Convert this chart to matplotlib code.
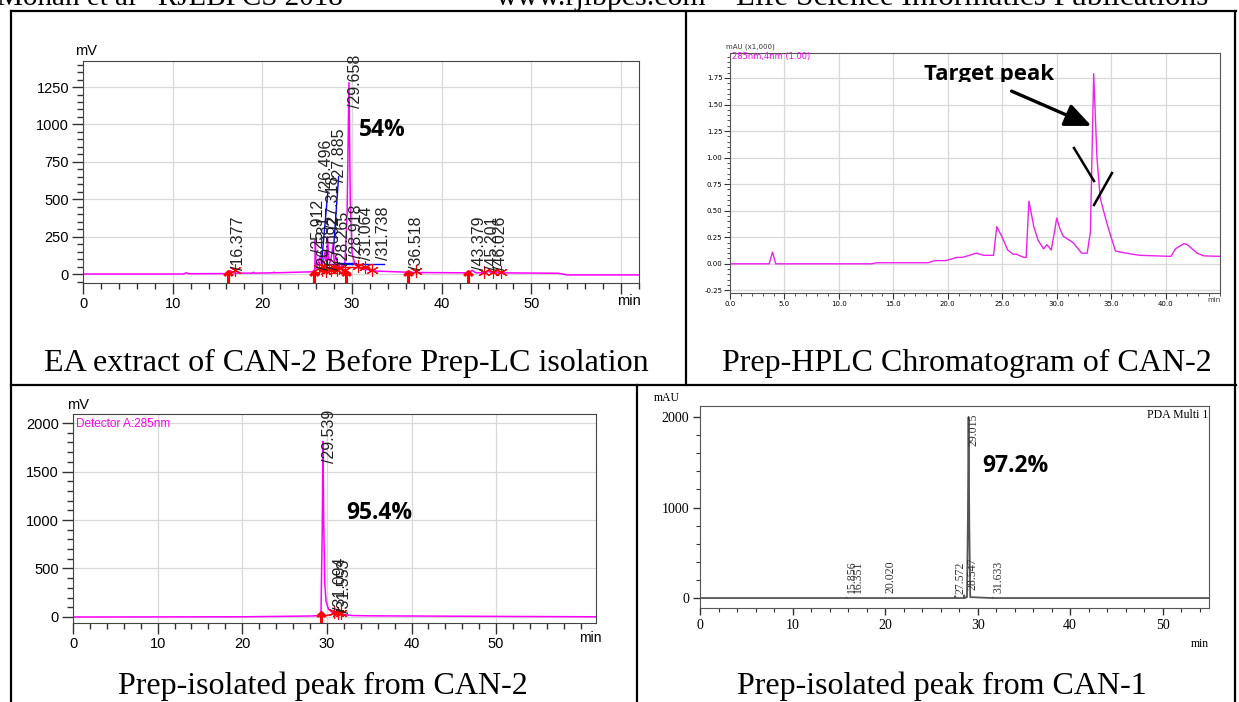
import matplotlib
matplotlib.use("Agg")
import matplotlib.pyplot as plt
from matplotlib.lines import Line2D
from matplotlib.patches import FancyArrowPatch
from matplotlib.ticker import MultipleLocator
from matplotlib.transforms import Bbox, TransformedBbox

W, H = 1239, 702

# ---- panel 1: EA extract of CAN-2 (mV) ----
t1 = [0, 11.2, 11.5, 11.8, 16.0, 16.4, 16.9, 18.9, 19.0, 19.1, 21.2, 21.3, 21.4,
      25.6, 25.85, 25.91, 26.0, 26.3, 26.5, 26.6, 26.8, 27.0, 27.09, 27.2, 27.27,
      27.4, 27.6, 27.89, 28.0, 28.27, 28.4, 28.8, 28.92, 29.2, 29.45, 29.66, 29.8,
      30.0, 30.3, 30.8, 31.06, 31.4, 31.74, 32.5, 36.3, 36.52, 36.8, 43.0, 43.38,
      43.8, 44.8, 45.2, 45.6, 46.03, 46.5, 53.0, 54.0, 62]
v1 = [0, 0, 8, 2, 3, 22, 6, 6, 12, 6, 8, 12, 8,
      15, 30, 230, 40, 90, 120, 60, 80, 150, 90, 110, 250,
      100, 80, 200, 90, 110, 50, 45, 60, 60, 400, 1280, 500,
      140, 70, 40, 40, 30, 30, 20, 12, 14, 10, 8, 25,
      8, 8, 18, 8, 14, 8, 5, -6, -6]
labels1 = ["/16.377", "/25.912", "/26.581", "/26.496", "/27.092", "/27.318", "/27.885",
           "/28.265", "/28.918", "/29.658", "/31.064", "/31.738", "/36.518", "/43.379",
           "/45.201", "/46.026"]
lab1_t = [17.3, 26.3, 26.9, 27.2, 28.0, 27.9, 28.6, 29.0, 30.5, 30.4, 31.6, 33.5,
          37.2, 44.2, 45.7, 46.6]
lab1_v = [27, 140, 27, 540, 27, 300, 615, 60, 107, 1110, 93, 93, 27, 27, 27, 27]
blue1 = [(26.6, 71, 27.3, 550), (27.9, 138, 28.5, 650), (27.1, 67, 33.6, 67), (28.4, 75, 30.4, 75)]
arrows1 = [16.2, 25.8, 29.3, 36.2, 42.9]
stars1_t = [16.9, 26.3, 26.6, 26.9, 27.1, 27.4, 27.7, 28.0, 28.3, 28.6, 29.2, 30.7,
            31.5, 32.2, 37.1, 44.7, 45.7, 46.6]
stars1_v = [25, 40, 30, 50, 20, 40, 30, 45, 25, 40, 30, 55, 50, 30, 20, 15, 15, 15]

# ---- panel 2: Prep-HPLC of CAN-2 (mAU x1000) ----
t2 = [0, 3.6, 3.9, 4.2, 13.0, 13.5, 18.2, 18.8, 19.8, 20.5, 20.8, 21.3, 22.0, 22.6,
      23.3, 24.2, 24.5, 25.0, 25.5, 26.0, 26.3, 27.0, 27.2, 27.45, 27.9, 28.3, 28.8,
      29.1, 29.5, 29.8, 30.0, 30.3, 30.6, 31.5, 32.3, 32.8, 33.1, 33.4, 33.7, 34.0,
      34.3, 34.7, 35.4, 36.4, 37.6, 40.5, 40.9, 41.2, 41.7, 42.0, 42.9, 43.5, 45.0]
v2 = [0, 0, 0.11, 0, 0, 0.01, 0.01, 0.03, 0.03, 0.05, 0.06, 0.06, 0.08, 0.10,
      0.08, 0.08, 0.35, 0.25, 0.13, 0.09, 0.09, 0.06, 0.06, 0.59, 0.35, 0.22, 0.14,
      0.18, 0.13, 0.30, 0.43, 0.33, 0.26, 0.20, 0.10, 0.10, 0.30, 1.79, 1.0, 0.62,
      0.50, 0.35, 0.12, 0.10, 0.08, 0.07, 0.14, 0.16, 0.19, 0.18, 0.10, 0.075, 0.07]

# ---- panel 3: Prep-isolated peak CAN-2 (mV) ----
t3 = [0, 20, 28.0, 29.3, 29.45, 29.54, 29.62, 29.75, 29.9, 30.2, 30.6, 31.1, 31.5,
      32.0, 33.0, 35, 45, 61.8]
v3 = [0, 2, 10, 15, 900, 1810, 1000, 350, 160, 80, 50, 40, 35, 25, 15, 12, 8, 2]
labels3 = ["/29.539", "/31.094", "/31.553"]
lab3_t = [30.3, 31.6, 32.1]
lab3_v = [1590, 60, 40]
stars3_t = [30.8, 31.3, 31.7]
stars3_v = [50, 45, 40]

# ---- panel 4: Prep-isolated peak CAN-1 (mAU) ----
t4 = [0, 15.8, 15.86, 15.9, 27.5, 27.57, 27.65, 28.5, 28.55, 28.6, 28.85, 28.95,
      29.02, 29.1, 29.2, 31.6, 31.63, 31.7, 55]
v4 = [0, 0, 5, 0, 0, 20, 0, 0, 30, 0, 10, 900, 2000, 800, 10, 0, 5, 0, 0]
labels4 = ["15.856", "16.351", "20.020", "27.572", "28.547", "29.015", "31.633"]
lab4_t = [16.4, 17.1, 20.6, 28.2, 29.4, 29.6, 32.2]
lab4_v = [55, 55, 55, 40, 90, 1680, 55]

captions = ["EA extract of CAN-2 Before Prep-LC isolation", "Prep-HPLC Chromatogram of CAN-2",
            "Prep-isolated peak from CAN-2", "Prep-isolated peak from CAN-1"]

MAG = "#ff00ff"
serif = "Liberation Serif"
fig = plt.figure(figsize=(W / 100, H / 100), dpi=100)


def panel(x0, y0, x1, y1):
    return fig.add_axes([x0 / W, 1 - y1 / H, (x1 - x0) / W, (y1 - y0) / H])


def line(x0, y0, x1, y1, lw=1.6):
    fig.add_artist(Line2D([x0 / W, x1 / W], [1 - y0 / H, 1 - y1 / H],
                          transform=fig.transFigure, color="black", lw=lw))


def ftext(x, y, s, **kw):
    return fig.text(x / W, 1 - y / H, s, **kw)


# table frame
line(11, 11, 1236, 11)
line(11, 11, 11, 702)
line(1235, 11, 1235, 702)
line(11, 385, 1236, 385)
line(686, 11, 686, 385)
line(637, 385, 637, 702)

# page header (cut off at the top edge)
ftext(-3, 5, "Mohan et al   RJLBPCS 2018", fontsize=21, family=serif, va="baseline")
ftext(496, 5, "www.rjlbpcs.com", fontsize=21.5, family=serif, va="baseline")
ftext(736, 5, "Life Science Informatics Publications", fontsize=22.5, family=serif, va="baseline")

for s, (cx, cy) in zip(captions, [(346, 371), (967, 371), (323, 694), (942, 694)]):
    ftext(cx, cy, s, fontsize=23, family=serif, ha="center", va="baseline")

# ---------- panel 1 ----------
ax = panel(83, 61, 639, 283)
ax.set_xlim(0, 62)
ax.set_ylim(-60, 1424)
ax.plot(t1, v1, color=MAG, lw=1.1)
for a, b, c, d in blue1:
    ax.plot([a, c], [b, d], color="blue", lw=1)
ax.plot([28.3, 31.9], [50, 50], color="red", lw=1)
ax.plot(arrows1, [-25] * len(arrows1), ls="none", marker=r"$\uparrow$", ms=11, color="red")
ax.plot(stars1_t, stars1_v, ls="none", marker=(6, 2, 0), ms=9, mew=0.8, color="red")
for s, t, v in zip(labels1, lab1_t, lab1_v):
    ax.text(t, v, s, rotation=90, ha="center", va="bottom", fontsize=11.5,
            family="Liberation Sans", color="#222", clip_on=False)
ax.set_xticks(range(0, 61, 10))
ax.set_xticklabels(["0", "10", "20", "30", "40", "50", ""])
ax.set_yticks(range(0, 1251, 250))
ax.xaxis.set_minor_locator(MultipleLocator(2))
ax.yaxis.set_minor_locator(MultipleLocator(50))
ax.grid(True, color="#d8d8d8", lw=0.9)
ax.set_axisbelow(True)
ax.tick_params(which="major", length=8, width=1, labelsize=10.5, color="#333", pad=2)
ax.tick_params(which="minor", length=4, width=1, color="#333")
for lab in ax.get_xticklabels() + ax.get_yticklabels():
    lab.set_family("Liberation Sans")
for sp in ax.spines.values():
    sp.set_color("#444")
ftext(75, 55, "mV", fontsize=10.5, family="Liberation Sans", va="baseline")
ftext(629, 305, "min", fontsize=10.5, family="Liberation Sans", ha="center", va="baseline")
ftext(359, 136, "54%", fontsize=16.5, family="Open Sans", weight="bold", va="baseline")

# ---------- panel 2 ----------
ax = panel(730, 53, 1220, 293)
ax.set_xlim(0, 45)
ax.set_ylim(-0.275, 1.985)
ax.plot(t2, v2, color="#f020f0", lw=1.0)
ax.set_xticks([0, 5, 10, 15, 20, 25, 30, 35, 40])
ax.set_xticklabels(["0.0", "5.0", "10.0", "15.0", "20.0", "25.0", "30.0", "35.0", "40.0"])
ax.set_yticks([-0.25, 0, 0.25, 0.5, 0.75, 1.0, 1.25, 1.5, 1.75])
ax.set_yticklabels(["-0.25", "0.00", "0.25", "0.50", "0.75", "1.00", "1.25", "1.50", "1.75"])
ax.xaxis.set_minor_locator(MultipleLocator(1))
ax.yaxis.set_minor_locator(MultipleLocator(0.05))
ax.grid(True, color="#d8d8d8", lw=0.9)
ax.set_axisbelow(True)
ax.tick_params(which="major", length=4, width=0.8, labelsize=5, color="#333", pad=1.5)
ax.tick_params(which="minor", length=2, width=0.6, color="#333")
for sp in ax.spines.values():
    sp.set_color("#555")
ftext(726, 49, "mAU (x1,000)", fontsize=5, color="#333")
ftext(732, 59, "285nm,4nm (1.00)", fontsize=6, color=MAG)
ftext(1214, 302, "min", fontsize=5, ha="center", va="baseline", color="#333")
tg = ftext(924, 80, "Target peak", fontsize=16, family="Open Sans", weight="bold", va="baseline")
tg.set_clip_box(TransformedBbox(Bbox([[900 / W, 1 - 82 / H], [1070 / W, 1 - 55 / H]]), fig.transFigure))
tg.set_clip_on(True)
fig.add_artist(FancyArrowPatch(
    (1009 / W, 1 - 90 / H), (1094 / W, 1 - 127 / H), transform=fig.transFigure,
    arrowstyle="-|>,head_length=16,head_width=7", lw=2.4, color="black", mutation_scale=1))
line(1074, 148, 1094, 181, lw=1.8)
line(1094, 205, 1112, 173, lw=1.8)

# ---------- panel 3 ----------
ax = panel(73, 414, 596, 623)
ax.set_xlim(0, 61.8)
ax.set_ylim(-62, 2093)
ax.plot(t3, v3, color=MAG, lw=1.1)
ax.plot([29.3, 31.7], [5, 45], color="red", lw=1)
ax.plot([29.3], [-25], ls="none", marker=r"$\uparrow$", ms=11, color="red")
ax.plot(stars3_t, stars3_v, ls="none", marker=(6, 2, 0), ms=9, mew=0.8, color="red")
for s, t, v in zip(labels3, lab3_t, lab3_v):
    ax.text(t, v, s, rotation=90, ha="center", va="bottom", fontsize=11.5,
            family="Liberation Sans", color="#222", clip_on=False)
ax.set_xticks(range(0, 51, 10))
ax.set_yticks(range(0, 2001, 500))
ax.xaxis.set_minor_locator(MultipleLocator(2))
ax.yaxis.set_minor_locator(MultipleLocator(100))
ax.grid(True, color="#d8d8d8", lw=0.9)
ax.set_axisbelow(True)
ax.tick_params(which="major", length=8, width=1, labelsize=10.5, color="#333", pad=2)
ax.tick_params(which="minor", length=4, width=1, color="#333")
for lab in ax.get_xticklabels() + ax.get_yticklabels():
    lab.set_family("Liberation Sans")
for sp in ax.spines.values():
    sp.set_color("#444")
ftext(67, 409, "mV", fontsize=10.5, family="Liberation Sans", va="baseline")
ftext(76, 427, "Detector A:285nm", fontsize=8.5, family="Liberation Sans", color=MAG, va="baseline")
ftext(590, 642, "min", fontsize=10, family="Liberation Sans", ha="center", va="baseline")
ftext(346, 519, "95.4%", fontsize=16.5, family="Open Sans", weight="bold", va="baseline")

# ---------- panel 4 ----------
ax = panel(700, 406, 1209, 608)
ax.set_xlim(0, 55)
ax.set_ylim(-110, 2122)
ax.plot(t4, v4, color="#555", lw=1.3)
for s, t, v in zip(labels4, lab4_t, lab4_v):
    ax.text(t, v, s, rotation=90, ha="center", va="bottom", fontsize=8.5,
            family=serif, color="#333")
ax.set_xticks(range(0, 51, 10))
ax.set_yticks([0, 1000, 2000])
ax.xaxis.set_minor_locator(MultipleLocator(2))
ax.yaxis.set_minor_locator(MultipleLocator(200))
ax.tick_params(which="major", length=5, width=1, labelsize=10, color="#333", pad=3)
ax.tick_params(which="minor", length=3, width=0.8, color="#333")
for lab in ax.get_xticklabels() + ax.get_yticklabels():
    lab.set_family(serif)
for sp in ax.spines.values():
    sp.set_color("#555")
ftext(654, 401, "mAU", fontsize=8.5, family=serif, va="baseline")
ftext(1208, 418, "PDA Multi 1", fontsize=8.5, family=serif, ha="right", va="baseline")
ftext(1200, 647, "min", fontsize=8.5, family=serif, ha="center", va="baseline")
ftext(982, 472, "97.2%", fontsize=16.5, family="Open Sans", weight="bold", va="baseline")

fig.savefig("out.png", dpi=100)
